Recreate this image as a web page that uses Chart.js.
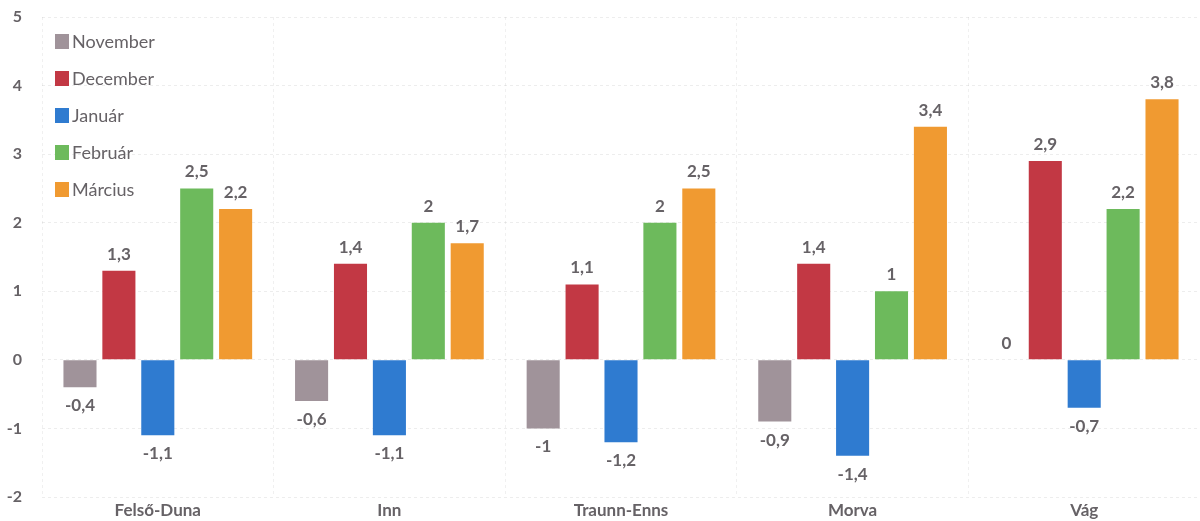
<!DOCTYPE html>
<html>
<head>
<meta charset="utf-8">
<script src="https://cdn.jsdelivr.net/npm/chart.js@4"></script>
<style>
    html, body { margin: 0; padding: 0; background: #ffffff; }
    #wrap { width: 1200px; height: 521px; }
</style>
</head>
<body>
<div id="wrap"><canvas id="chart"></canvas></div>
<script>
const regions = ['Felső-Duna', 'Inn', 'Traunn-Enns', 'Morva', 'Vág'];
const months = ['November', 'December', 'Január', 'Február', 'Március'];

const november = [-0.4, -0.6, -1, -0.9, 0];
const december = [1.3, 1.4, 1.1, 1.4, 2.9];
const januar = [-1.1, -1.1, -1.2, -1.4, -0.7];
const februar = [2.5, 2, 2, 1, 2.2];
const marcius = [2.2, 1.7, 2.5, 3.4, 3.8];

const yTicks = [-2, -1, 0, 1, 2, 3, 4, 5];

const colors = ['#a0939a', '#c23844', '#2f7bd0', '#6dba5c', '#f09a31'];
const textColor = '#666266';
const fontFamily = 'Lato, "Open Sans", sans-serif';

const series = [november, december, januar, februar, marcius];

const datasets = series.map((values, i) => ({
    label: months[i],
    data: values,
    backgroundColor: colors[i],
    borderWidth: 0,
    categoryPercentage: 0.84,
    barPercentage: 0.85
}));

// Értékcímkék az oszlopok fölött / alatt
const valueLabels = {
    id: 'valueLabels',
    afterDatasetsDraw(chart) {
        const ctx = chart.ctx;
        ctx.save();
        ctx.font = 'bold 17px ' + fontFamily;
        ctx.fillStyle = textColor;
        ctx.textAlign = 'center';
        chart.data.datasets.forEach((ds, i) => {
            const meta = chart.getDatasetMeta(i);
            meta.data.forEach((bar, j) => {
                const v = ds.data[j];
                const txt = String(v).replace('.', ',');
                if (v >= 0) {
                    ctx.textBaseline = 'bottom';
                    ctx.fillText(txt, bar.x, bar.y - 8);
                } else {
                    ctx.textBaseline = 'top';
                    ctx.fillText(txt, bar.x, bar.y + 10);
                }
            });
        });
        ctx.restore();
    }
};

// Jelmagyarázat bal felül, egymás alatt
const sideLegend = {
    id: 'sideLegend',
    afterDraw(chart) {
        const ctx = chart.ctx;
        ctx.save();
        ctx.font = '18px ' + fontFamily;
        ctx.textBaseline = 'middle';
        ctx.textAlign = 'left';
        chart.data.datasets.forEach((ds, i) => {
            const y = 41 + i * 37;
            ctx.fillStyle = ds.backgroundColor;
            ctx.fillRect(55, y - 7, 14, 15);
            ctx.fillStyle = textColor;
            ctx.fillText(ds.label, 72, y + 1);
        });
        ctx.restore();
    }
};

new Chart(document.getElementById('chart'), {
    type: 'bar',
    data: {
        labels: regions,
        datasets: datasets
    },
    options: {
        responsive: true,
        maintainAspectRatio: false,
        animation: false,
        layout: { padding: { top: 17, right: 0, bottom: 0, left: 0 } },
        plugins: {
            legend: { display: false },
            tooltip: { enabled: false }
        },
        scales: {
            x: {
                grid: {
                    color: 'rgba(0,0,0,0.06)',
                    drawTicks: false
                },
                border: { display: false, dash: [3, 3] },
                ticks: {
                    color: textColor,
                    font: { family: fontFamily, size: 17, weight: 'bold' },
                    padding: 3
                },
                afterFit: scale => {
                    scale.height = 24;
                    scale.paddingLeft = 0;
                    scale.paddingRight = 0;
                }
            },
            y: {
                min: -2,
                max: 5,
                afterBuildTicks: scale => { scale.ticks = yTicks.map(v => ({ value: v })); },
                grid: {
                    color: 'rgba(0,0,0,0.07)',
                    drawTicks: false
                },
                border: { display: false, dash: [3, 3] },
                ticks: {
                    color: textColor,
                    font: { family: fontFamily, size: 16, weight: 'bold' },
                    padding: 20
                },
                afterFit: scale => {
                    scale.width = 42;
                    scale.paddingTop = 0;
                    scale.paddingBottom = 0;
                }
            }
        }
    },
    plugins: [valueLabels, sideLegend]
});
</script>
</body>
</html>
